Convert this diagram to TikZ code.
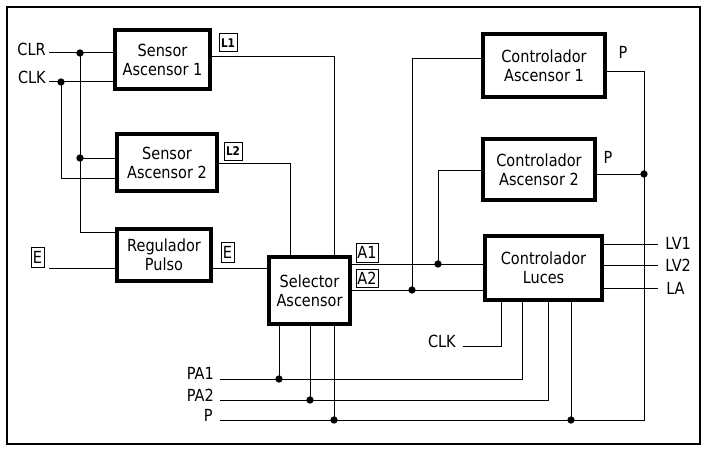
\documentclass[tikz,border=0pt]{standalone}
\usepackage{fontspec}
\setmainfont{DejaVu Sans}[FakeStretch=0.87]
\newcommand\pxu{0.75pt}
\begin{document}
\begin{tikzpicture}[x=0.75pt,y=-0.75pt,
  txt/.style={font=\fontsize{12.5}{14.3}\selectfont,inner sep=0pt},
  blk/.style={draw,line width=3pt,align=center,font=\fontsize{12.5}{14.3}\selectfont,inner sep=0pt},
  tag/.style={draw,line width=0.75pt,inner xsep=1pt,inner ysep=0pt,font=\fontsize{12.5}{14.3}\selectfont},
  btag/.style={draw,line width=0.75pt,inner sep=0pt,minimum width=18*\pxu,minimum height=18*\pxu,font=\bfseries\fontsize{9}{10}\selectfont},
  wire/.style={line width=0.75pt},
  dot/.style={circle,fill,inner sep=0pt,minimum size=5.5pt}]
\useasboundingbox (0,0) rectangle (707,453);
\draw[line width=1.1pt] (7,7) rectangle (700,444);

% blocks
\node[blk,minimum width=95*\pxu,minimum height=59*\pxu] (s1) at (162.5,59.5) {Sensor\\Ascensor 1};
\node[blk,minimum width=100*\pxu,minimum height=57*\pxu] (s2) at (167,162.5) {Sensor\\Ascensor 2};
\node[blk,minimum width=94*\pxu,minimum height=52*\pxu] (reg) at (164,255) {Regulador\\Pulso};
\node[blk,minimum width=81*\pxu,minimum height=67*\pxu] (sel) at (309.5,290.5) {Selector\\Ascensor};
\node[blk,minimum width=122*\pxu,minimum height=63*\pxu] (ca1) at (544,65.5) {Controlador\\Ascensor 1};
\node[blk,minimum width=112*\pxu,minimum height=61*\pxu] (ca2) at (539,169.5) {Controlador\\Ascensor 2};
\node[blk,minimum width=117*\pxu,minimum height=64*\pxu] (cl) at (543.5,268) {Controlador\\Luces};

% labels
\node[txt,anchor=east] (tclr) at (46,49) {CLR};
\node[txt,anchor=east] (tclk) at (46,77) {CLK};
\node[tag,minimum width=13*\pxu,minimum height=20*\pxu] (te1) at (37.5,257.5) {E};
\node[tag,minimum width=13*\pxu,minimum height=20*\pxu] (te2) at (227.5,252.5) {E};
\node[tag,minimum width=22*\pxu,minimum height=19*\pxu] (ta1) at (367,252.5) {A1};
\node[tag,minimum width=22*\pxu,minimum height=18*\pxu] (ta2) at (367,278.5) {A2};
\node[btag] (tl1) at (228,43) {L1};
\node[btag] (tl2) at (233,151.5) {L2};
\node[txt] (tp1) at (623,52) {P};
\node[txt] (tp2) at (608,157) {P};
\node[txt,anchor=west] (tlv1) at (665,243) {LV1};
\node[txt,anchor=west] (tlv2) at (665,265) {LV2};
\node[txt,anchor=west] (tla) at (666,288) {LA};
\node[txt,anchor=east] (tclkb) at (456,341) {CLK};
\node[txt,anchor=east] (tpa1) at (214,373) {PA1};
\node[txt,anchor=east] (tpa2) at (214,395) {PA2};
\node[txt,anchor=east] (tp) at (213,415) {P};

% junctions
\node[dot] (d1) at (80,53) {};
\node[dot] (d2) at (61,82) {};
\node[dot] (d3) at (80,158) {};
\node[dot] (d4) at (438,264) {};
\node[dot] (d5) at (412,290) {};
\node[dot] (d6) at (644,174) {};
\node[dot] (d7) at (571,420) {};
\node[dot] (d8) at (279,379) {};
\node[dot] (d9) at (310,400) {};
\node[dot] (d10) at (334,420) {};

% free ends
\coordinate (clr) at (49,53);
\coordinate (clk) at (49,82);
\coordinate (eL) at (49,268);
\coordinate (pR) at (644,420);
\coordinate (pL) at (220,420);
\coordinate (pa1) at (220,379);
\coordinate (pa2) at (220,400);
\coordinate (clkB) at (463,346);
\coordinate (lv1) at (658,244);
\coordinate (lv2) at (658,265);
\coordinate (la) at (658,288);

% wires
\draw[wire] (clr) -- (s1.west |- clr);
\draw[wire] (clk) -- (s1.west |- clk);
\draw[wire] (d1.center) |- (reg.west |- 0,232);
\draw[wire] (d3.center) -- (s2.west |- d3);
\draw[wire] (d2.center) |- (s2.west |- 0,178);
\draw[wire] (eL) -- (reg.west |- eL);
\draw[wire] (reg.east |- eL) -- (sel.west |- eL);
\draw[wire] (s1.east |- 0,57) -| (sel.north -| 334,0);
\draw[wire] (s2.east |- 0,163) -| (sel.north -| 290,0);
\draw[wire] (sel.east |- d4) -- (cl.west |- d4);
\draw[wire] (sel.east |- d5) -- (cl.west |- d5);
\draw[wire] (d4.center) |- (ca2.west |- 0,170);
\draw[wire] (d5.center) |- (ca1.west |- 0,59);
\draw[wire] (ca1.east |- 0,72) -| (pR) -- (pL);
\draw[wire] (ca2.east |- d6) -- (d6.center);
\draw[wire] (cl.east |- lv1) -- (lv1);
\draw[wire] (cl.east |- lv2) -- (lv2);
\draw[wire] (cl.east |- la) -- (la);
\draw[wire] (cl.south -| 501,0) |- (clkB);
\draw[wire] (cl.south -| 522,0) |- (pa1);
\draw[wire] (cl.south -| 548,0) |- (pa2);
\draw[wire] (cl.south -| d7) -- (d7.center);
\draw[wire] (sel.south -| d8) -- (d8.center);
\draw[wire] (sel.south -| d9) -- (d9.center);
\draw[wire] (sel.south -| d10) -- (d10.center);
\end{tikzpicture}
\end{document}
